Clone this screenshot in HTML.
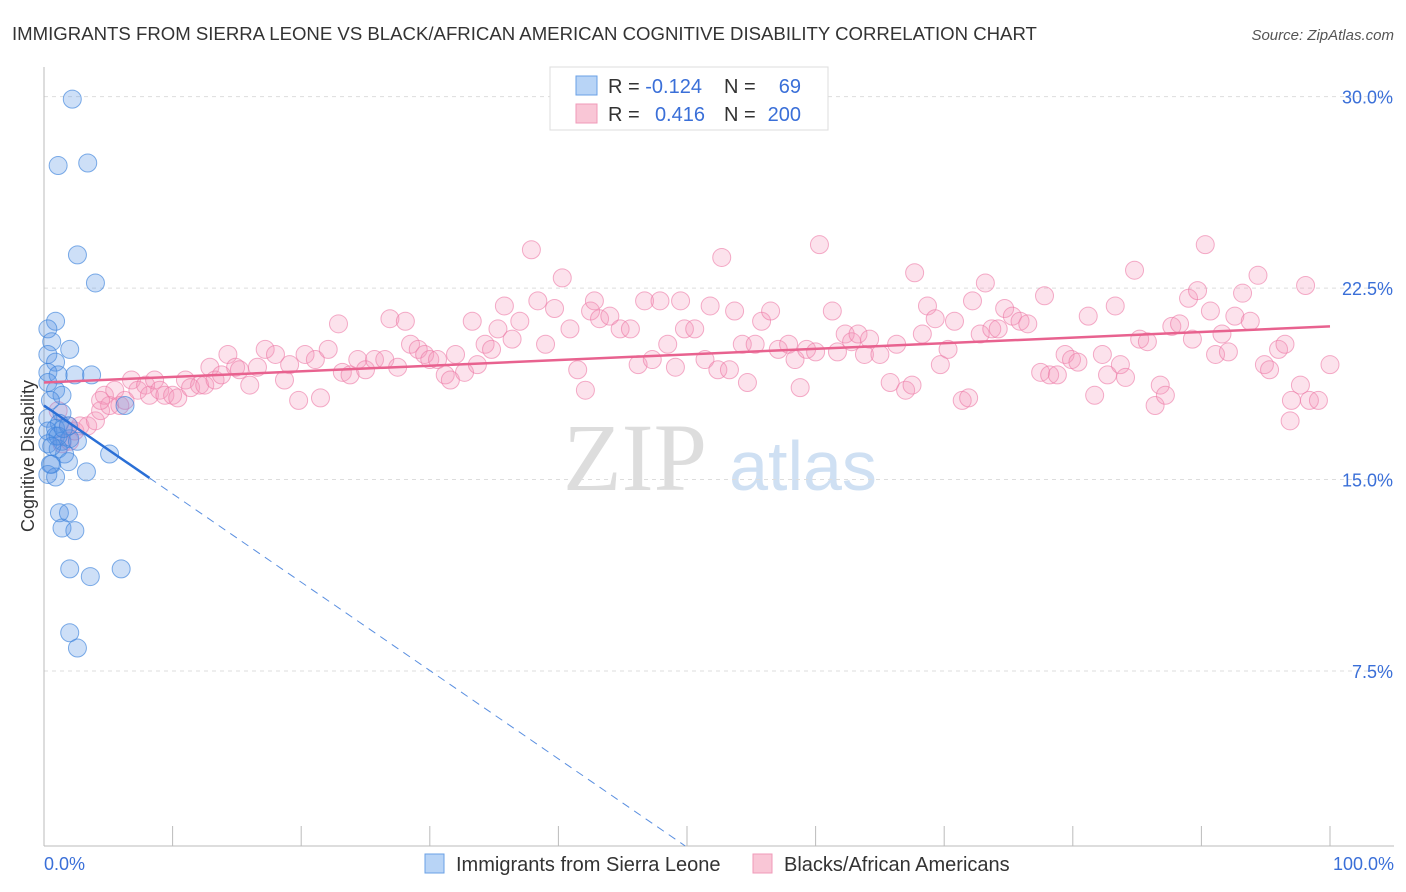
<!DOCTYPE html>
<html><head><meta charset="utf-8">
<style>
body{margin:0;background:#fff;font-family:"Liberation Sans",sans-serif;}
svg{display:block}
</style></head>
<body>
<svg id="chart" width="1406" height="892" xmlns="http://www.w3.org/2000/svg">
<text x="12" y="40" font-size="18.6" fill="#333">IMMIGRANTS FROM SIERRA LEONE VS BLACK/AFRICAN AMERICAN COGNITIVE DISABILITY CORRELATION CHART</text>
<text x="1394" y="40" font-size="15" fill="#555" font-style="italic" text-anchor="end">Source: ZipAtlas.com</text>
<text transform="translate(34,456) rotate(-90)" font-size="18" fill="#333" text-anchor="middle">Cognitive Disability</text>
<g>
<text x="635" y="490" font-size="96" fill="#ddd" font-family="Liberation Serif,serif" text-anchor="middle">ZIP</text>
<text x="803" y="490" font-size="70" fill="#cfe0f3" text-anchor="middle">atlas</text>
</g>
<g id="grid"></g>
<g id="axes"></g>
<g id="pts"></g>
<g id="lines"></g>
<g>
<rect x="550" y="67" width="278" height="63" fill="#fff" stroke="#ddd"/>
<rect x="576" y="76" width="21" height="19" fill="#b8d4f6" stroke="#6aa0e6"/>
<rect x="576" y="104" width="21" height="19" fill="#f9c6d6" stroke="#f09ab8"/>
<text x="608" y="93" font-size="20" fill="#333">R = <tspan fill="#3a6fd8">-0.124</tspan></text>
<text x="724" y="93" font-size="20" fill="#333">N = </text><text x="801" y="93" font-size="20" fill="#3a6fd8" text-anchor="end">69</text>
<text x="608" y="121" font-size="20" fill="#333">R = </text><text x="705" y="121" font-size="20" fill="#3a6fd8" text-anchor="end">0.416</text>
<text x="724" y="121" font-size="20" fill="#333">N = </text><text x="801" y="121" font-size="20" fill="#3a6fd8" text-anchor="end">200</text>
</g>
<g>
<rect x="425" y="854" width="19" height="19" fill="#b8d4f6" stroke="#6aa0e6"/>
<text x="456" y="871" font-size="20" fill="#333">Immigrants from Sierra Leone</text>
<rect x="753" y="854" width="19" height="19" fill="#f9c6d6" stroke="#f09ab8"/>
<text x="784" y="871" font-size="20" fill="#333">Blacks/African Americans</text>
</g>
</svg>
<script>
const yTicks=[7.5,15,22.5,30];
const yTickLabels=["7.5%","15.0%","22.5%","30.0%"];
const blueX=[2.2,1.1,3.4,2.6,4.0,0.9,0.3,0.6,2.0,0.3,0.9,0.3,1.1,2.4,3.7,0.3,0.9,1.4,0.5,1.4,0.3,1.2,0.9,1.9,0.3,0.9,1.4,2.0,2.6,0.3,1.1,1.6,0.6,1.9,0.3,0.9,3.3,5.1,1.2,1.9,1.4,2.4,2.0,3.6,6.0,2.0,2.6,6.3,0.5,1.1,1.5,0.6];
const blueY=[29.9,27.3,27.4,23.8,22.7,21.2,20.9,20.4,20.1,19.9,19.6,19.2,19.1,19.1,19.1,18.8,18.5,18.3,18.1,17.6,17.4,17.2,17.0,17.1,16.9,16.7,16.5,16.6,16.5,16.4,16.2,16.0,15.6,15.7,15.2,15.1,15.3,16.0,13.7,13.7,13.1,13.0,11.5,11.2,11.5,9.0,8.4,17.9,15.6,16.7,17.0,16.3];
const pinkX=[1.4,2.0,2.4,2.8,3.4,4.0,4.4,4.7,5.1,5.5,5.9,6.3,6.8,7.3,7.9,8.2,8.6,9.0,9.4,10.0,10.4,11.0,11.4,12.1,12.5,12.9,13.3,13.8,14.3,14.9,15.2,16.0,16.6,17.2,18.0,18.7,19.1,19.8,20.3,21.1,21.5,22.1,22.9,23.2,23.8,24.4,25.0,25.7,26.5,26.9,27.5,28.1,28.5,29.1,29.6,30.0,30.6,31.2,31.6,32.0,32.7,33.3,33.7,34.3,34.8,35.3,35.8,36.4,37.0,37.9,38.4,39.0,39.7,40.3,40.9,41.5,42.1,42.5,42.8,43.2,44.0,44.8,45.6,46.2,46.7,47.3,47.9,48.5,49.1,49.5,49.8,50.6,51.4,51.8,52.4,52.7,53.3,53.7,54.3,54.7,55.3,55.8,56.5,57.1,57.9,58.4,58.8,59.3,60.0,60.3,61.3,61.7,62.3,62.8,63.3,63.8,64.2,65.0,65.8,66.3,67.0,67.5,67.7,68.3,68.7,69.3,69.7,70.3,70.8,71.4,71.9,72.2,72.8,73.2,73.7,74.2,74.7,75.3,75.9,76.5,77.5,77.8,78.2,78.8,79.4,79.9,80.4,81.2,81.7,82.3,82.7,83.3,83.7,84.1,84.8,85.2,85.8,86.4,86.8,87.2,87.7,88.3,89.0,89.3,89.7,90.3,90.7,91.1,91.6,92.1,92.6,93.2,93.8,94.4,94.9,95.3,96.0,96.5,97.0,97.7,98.1,98.4,99.1,100,96.9,4.4,1.9,1.1];
const pinkY=[16.4,16.5,16.9,17.1,17.1,17.3,17.7,18.3,17.9,18.5,17.9,18.1,18.9,18.5,18.7,18.3,18.9,18.5,18.3,18.3,18.2,18.9,18.6,18.7,18.7,19.4,18.9,19.1,19.9,19.4,19.3,18.7,19.4,20.1,19.9,18.9,19.5,18.1,19.9,19.7,18.2,20.1,21.1,19.2,19.1,19.7,19.3,19.7,19.7,21.3,19.4,21.2,20.3,20.1,19.9,19.7,19.7,19.1,18.9,19.9,19.2,21.2,19.5,20.3,20.1,20.9,21.8,20.5,21.2,24.0,22.0,20.3,21.7,22.9,20.9,19.3,18.5,21.6,22.0,21.3,21.4,20.9,20.9,19.5,22.0,19.7,22.0,20.3,19.4,22.0,20.9,20.9,19.7,21.8,19.3,23.7,19.3,21.6,20.3,18.8,20.3,21.2,21.6,20.1,20.3,19.7,18.6,20.1,20.0,24.2,21.6,20.0,20.7,20.4,20.7,19.9,20.5,19.9,18.8,20.3,18.5,18.7,23.1,20.7,21.8,21.3,19.5,20.1,21.2,18.1,18.2,22.0,20.7,22.7,20.9,20.9,21.7,21.4,21.2,21.1,19.2,22.2,19.1,19.1,19.9,19.7,19.6,21.4,18.3,19.9,19.1,21.8,19.5,19.0,23.2,20.5,20.4,17.9,18.7,18.3,21.0,21.1,22.1,20.5,22.4,24.2,21.6,19.9,20.7,20.0,21.4,22.3,21.2,23.0,19.5,19.3,20.1,20.3,18.1,18.7,22.6,18.1,18.1,19.5,17.3,18.1,17.1,17.7];
const pinkTrend=[18.8,21.0];
const blueTrend=[17.9,-0.346];

const X0=44,X1=1330,AXY=846;
const sx=v=>X0+(X1-X0)*v/100;
const sy=v=>862.5-v*25.53;
const NS="http://www.w3.org/2000/svg";
function mk(tag,attrs,parent){const e=document.createElementNS(NS,tag);for(const k in attrs)e.setAttribute(k,attrs[k]);parent.appendChild(e);return e;}
const grid=document.getElementById('grid'),axes=document.getElementById('axes'),pts=document.getElementById('pts'),lines=document.getElementById('lines');
yTicks.forEach((t,i)=>{
  const l=mk('line',{x1:X0,x2:1394,y1:sy(t),y2:sy(t),stroke:'#ddd','stroke-dasharray':'4,4'},grid);
  
  
  const tx=mk('text',{x:1393,y:sy(t)+7,'font-size':18,fill:'#3a6fd8','text-anchor':'end'},axes);
  tx.textContent=yTickLabels[i];
  
  
});
const ya=mk('line',{x1:X0,x2:X0,y1:67,y2:AXY,stroke:'#bbb'},axes);


const xa=mk('line',{x1:X0,x2:1394,y1:AXY,y2:AXY,stroke:'#bbb'},axes);


for(let i=0;i<=10;i++){
  const t=mk('line',{x1:sx(i*10),x2:sx(i*10),y1:826,y2:AXY,stroke:'#bbb'},axes);
  
  
}
const xl0=mk('text',{x:44,y:870,'font-size':18,fill:'#3a6fd8'},axes);xl0.textContent='0.0%';


const xl1=mk('text',{x:1394,y:870,'font-size':18,fill:'#3a6fd8','text-anchor':'end'},axes);xl1.textContent='100.0%';


pinkX.forEach((x,i)=>{
  const c=mk('circle',{cx:sx(x),cy:sy(pinkY[i]),r:9,fill:'rgba(244,150,185,0.28)',stroke:'rgba(236,120,165,0.6)','stroke-width':1},pts);
  
  
});
blueX.forEach((x,i)=>{
  const c=mk('circle',{cx:sx(x),cy:sy(blueY[i]),r:9,fill:'rgba(90,150,230,0.3)',stroke:'rgba(60,130,220,0.65)','stroke-width':1},pts);
  
  
});
const pl=mk('line',{x1:sx(0),y1:sy(pinkTrend[0]),x2:sx(100),y2:sy(pinkTrend[1]),stroke:'#e8628f','stroke-width':2.5},lines);


const bAt=x=>blueTrend[0]+blueTrend[1]*x;
const xEnd=8.2;
const bl=mk('line',{x1:sx(0),y1:sy(bAt(0)),x2:sx(xEnd),y2:sy(bAt(xEnd)),stroke:'#2a6fd6','stroke-width':2.5},lines);


const yBottom=(862.5-AXY)/25.53;
const xb=(yBottom-blueTrend[0])/blueTrend[1];
const bd=mk('line',{x1:sx(xEnd),y1:sy(bAt(xEnd)),x2:sx(xb),y2:sy(bAt(xb)),stroke:'#5a8fe0','stroke-width':1,'stroke-dasharray':'8,6'},lines);


</script>
</body></html>
